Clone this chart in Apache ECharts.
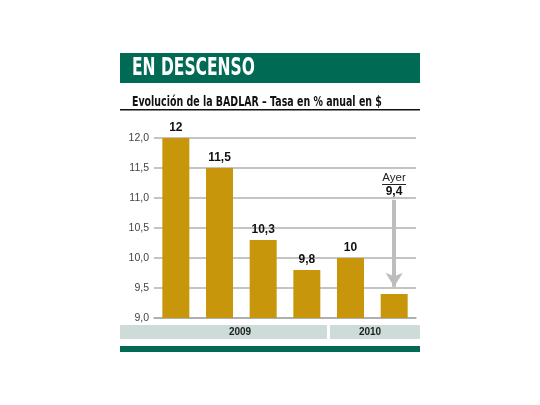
<!DOCTYPE html>
<html>
<head>
<meta charset="utf-8">
<script src="https://cdn.jsdelivr.net/npm/echarts@6/dist/echarts.min.js"></script>
<style>
  html, body { margin: 0; padding: 0; background: #fff; }
  #main { width: 540px; height: 405px; }
</style>
</head>
<body>
<div id="main"></div>
<script>
var periods = ['2009 (1)', '2009 (2)', '2009 (3)', '2009 (4)', '2010 (1)', '2010 (2)'];
var badlar = [12, 11.5, 10.3, 9.8, 10, 9.4];
var yearLabels = ['2009', '2010'];
var yTicks = { min: 9, max: 12, step: 0.5 };

var heavy = "'DejaVu Sans', sans-serif";
var plain = "'Liberation Sans', Arial, sans-serif";
var green = '#006a55';
var gold = '#c8960a';
var band = '#cddcd8';

var chartDom = document.getElementById('main');
var myChart = echarts.init(chartDom);
var option;

function comma(v) {
  return String(v).replace('.', ',');
}

option = {
  animation: false,
  grid: { left: 154, right: 124, top: 138, bottom: 87 },
  xAxis: {
    type: 'category',
    data: periods,
    axisLine: { lineStyle: { color: '#a8a8a8', width: 1.5 } },
    axisTick: { show: false },
    axisLabel: { show: false }
  },
  yAxis: {
    type: 'value',
    min: yTicks.min,
    max: yTicks.max,
    interval: yTicks.step,
    axisLine: { show: false },
    axisTick: { show: false },
    axisLabel: {
      color: '#444',
      fontSize: 10.5,
      fontFamily: plain,
      margin: 5,
      formatter: function (v) { return v.toFixed(1).replace('.', ','); }
    },
    splitLine: { lineStyle: { color: '#b0b0b0', width: 1.5 } }
  },
  series: [
    {
      name: 'BADLAR',
      type: 'bar',
      barWidth: 27,
      itemStyle: { color: gold },
      label: {
        show: true,
        position: 'top',
        distance: 4,
        color: '#111',
        fontWeight: 'bold',
        fontSize: 12,
        fontFamily: plain,
        formatter: function (p) { return comma(p.value); }
      },
      data: badlar.map(function (v, i) {
        return i === badlar.length - 1 ? { value: v, label: { show: false } } : v;
      }),
      markLine: {
        silent: true,
        symbol: ['none', 'arrow'],
        symbolSize: [13, 14],
        label: { show: false },
        lineStyle: { color: '#bdbdbd', width: 4, type: 'solid' },
        data: [[
          { coord: [periods.length - 1, 10.97] },
          { coord: [periods.length - 1, badlar[badlar.length - 1] + 0.12] }
        ]]
      }
    }
  ],
  graphic: [
    { type: 'rect', shape: { x: 120, y: 53, width: 300, height: 30 }, style: { fill: green } },
    {
      type: 'text', x: 132, y: 68.5, scaleX: 0.62,
      style: { text: 'EN DESCENSO', fill: '#fff', font: 'bold 25px ' + heavy, verticalAlign: 'middle' }
    },
    {
      type: 'text', x: 132, y: 102, scaleX: 0.7,
      style: { text: 'Evolución de la BADLAR – Tasa en % anual en $', fill: '#111', font: 'bold 13.5px ' + heavy, verticalAlign: 'middle' }
    },
    { type: 'rect', shape: { x: 120, y: 109, width: 300, height: 1.5 }, style: { fill: '#111' } },
    { type: 'rect', shape: { x: 120, y: 325, width: 207, height: 14 }, style: { fill: band } },
    { type: 'rect', shape: { x: 330, y: 325, width: 90, height: 14 }, style: { fill: band } },
    {
      type: 'text', x: 240, y: 332,
      style: { text: yearLabels[0], fill: '#222', font: 'bold 10px ' + plain, align: 'center', verticalAlign: 'middle' }
    },
    {
      type: 'text', x: 370, y: 332,
      style: { text: yearLabels[1], fill: '#222', font: 'bold 10px ' + plain, align: 'center', verticalAlign: 'middle' }
    },
    { type: 'rect', shape: { x: 120, y: 346, width: 300, height: 6 }, style: { fill: green } },
    {
      type: 'text', x: 394, y: 178,
      style: { text: 'Ayer', fill: '#222', font: '11.5px ' + plain, align: 'center', verticalAlign: 'middle' }
    },
    { type: 'rect', shape: { x: 382, y: 184, width: 24, height: 1 }, style: { fill: '#222' } },
    {
      type: 'text', x: 394, y: 191.5,
      style: { text: comma(badlar[badlar.length - 1]), fill: '#111', font: 'bold 12px ' + plain, align: 'center', verticalAlign: 'middle' }
    }
  ]
};

if (chartDom && myChart) {
  myChart.setOption(option);
} else {
  console.error('Failed to initialize the chart');
}
</script>
</body>
</html>
